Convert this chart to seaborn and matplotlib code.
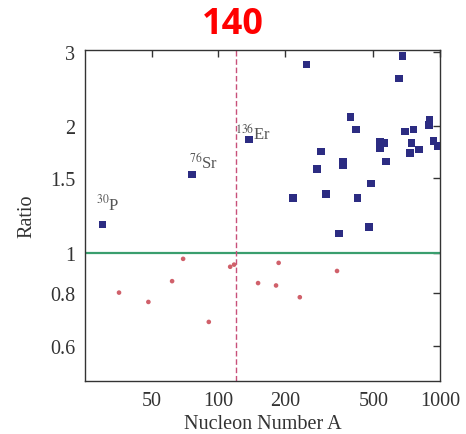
import matplotlib
matplotlib.use("Agg")
import matplotlib.pyplot as plt
import seaborn as sns
import pandas as pd
from matplotlib.ticker import FixedLocator, FixedFormatter, NullLocator

sns.set_style("white")
plt.rcParams["font.family"] = ["Liberation Serif", "DejaVu Serif"]
plt.rcParams["mathtext.fontset"] = "stix"

# Nuclei with ratio above unity
upper_A = [30, 76, 137, 250, 678, 655, 395, 417, 290, 278, 364, 364, 217, 306,
           424, 487, 350, 477, 536, 559, 535, 569, 695, 758, 745, 732, 802,
           898, 892, 933, 980]
upper_ratio = [1.166, 1.534, 1.855, 2.80, 2.93, 2.59, 2.10, 1.96, 1.74, 1.58,
               1.64, 1.61, 1.348, 1.378, 1.348, 1.46, 1.11, 1.149, 1.838, 1.82,
               1.775, 1.647, 1.94, 1.96, 1.82, 1.727, 1.759, 2.07, 2.01, 1.84, 1.79]

# Nuclei with ratio below unity
lower_A = [35.6, 48.3, 61.8, 69.3, 90.5, 113, 117.7, 151, 182, 187, 233, 343]
lower_ratio = [0.803, 0.763, 0.855, 0.966, 0.684, 0.925, 0.936, 0.846, 0.835,
               0.945, 0.783, 0.904]

labelled = [(30, 1.166, r"$^{30}$P", (-5, 8)), (76, 1.534, r"$^{76}$Sr", (-2, 2)),
            (137, 1.855, r"$^{136}$Er", (-10, -2))]

x_ticks = [50, 100, 200, 500, 1000]
y_ticks = [0.6, 0.8, 1, 1.5, 2, 3]
y_tick_labels = ["0.6", "0.8", "1", "1.5", "2", "3"]

upper = pd.DataFrame({"A": upper_A, "ratio": upper_ratio})
lower = pd.DataFrame({"A": lower_A, "ratio": lower_ratio})

fig = plt.figure(figsize=(4.66, 4.35), dpi=100)
ax = fig.add_axes([85 / 466, 1 - 382 / 435, 355 / 466, 331 / 435])
ax.set_xscale("log")
ax.set_yscale("log")

ax.axhline(1.0, color="#3a9e6e", lw=1.6, zorder=1)
ax.axvline(120, color="#c8507a", lw=1.0, ls=(0, (4, 2)), zorder=1)

sns.scatterplot(data=upper, x="A", y="ratio", ax=ax, marker="s", s=30,
                color="#2c2c82", edgecolor="none", zorder=3)
sns.scatterplot(data=lower, x="A", y="ratio", ax=ax, marker="o", s=11,
                color="#d0606a", edgecolor="none", zorder=3)

for a, r, txt, off in labelled:
    ax.annotate(txt, (a, r), xytext=off, textcoords="offset points",
                fontsize=12, color="#555555", ha="left", va="bottom")

ax.set_xlim(25, 1000)
ax.set_ylim(0.495, 3.03)
ax.xaxis.set_major_locator(FixedLocator(x_ticks))
ax.xaxis.set_major_formatter(FixedFormatter([str(t) for t in x_ticks]))
ax.xaxis.set_minor_locator(NullLocator())
ax.yaxis.set_major_locator(FixedLocator(y_ticks))
ax.yaxis.set_major_formatter(FixedFormatter(y_tick_labels))
ax.yaxis.set_minor_locator(NullLocator())
ax.tick_params(direction="in", length=5, width=1, top=True, right=True,
               labelsize=14.5, colors="#333333", pad=7)
for sp in ax.spines.values():
    sp.set_color("#333333")
    sp.set_linewidth(1.0)

ax.set_xlabel("Nucleon Number A", fontsize=14.5, color="#333333", labelpad=3)
ax.set_ylabel("Ratio", fontsize=14.5, color="#333333", labelpad=10)

fig.text(233 / 466, 1 - 25 / 435, "140", color="#ff0000", fontsize=26,
         fontweight="bold", ha="center", va="center",
         family=["Open Sans", "DejaVu Sans"])

fig.savefig("out.png", dpi=100)
